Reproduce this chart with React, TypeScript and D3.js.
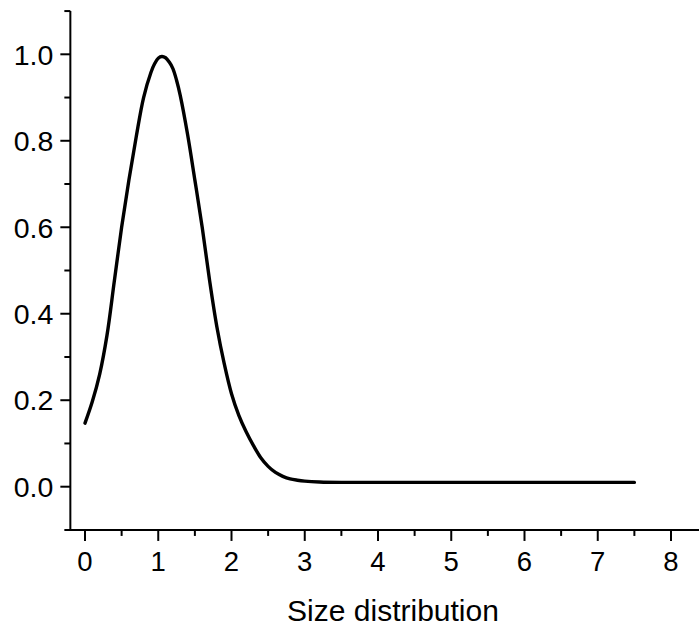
import React from "react";
import * as d3 from "d3";

const xValues = [0, 0.1, 0.2, 0.3, 0.4, 0.5, 0.6, 0.7, 0.8, 0.9, 0.95, 1.0, 1.05, 1.1, 1.15, 1.2, 1.25, 1.3, 1.4, 1.5, 1.6, 1.7, 1.8, 1.9, 2.0, 2.1, 2.2, 2.3, 2.4, 2.5, 2.6, 2.7, 2.8, 2.9, 3.0, 3.2, 3.5, 4, 5, 6, 7, 7.5];
const yValues = [0.147, 0.197, 0.26, 0.35, 0.475, 0.6, 0.71, 0.81, 0.9, 0.958, 0.978, 0.991, 0.995, 0.992, 0.982, 0.967, 0.94, 0.905, 0.815, 0.709, 0.6, 0.478, 0.37, 0.285, 0.215, 0.165, 0.127, 0.095, 0.067, 0.047, 0.033, 0.024, 0.018, 0.015, 0.013, 0.011, 0.01, 0.01, 0.01, 0.01, 0.01, 0.01];
const xMajor = [0, 1, 2, 3, 4, 5, 6, 7, 8];
const xMinor = [0.5, 1.5, 2.5, 3.5, 4.5, 5.5, 6.5, 7.5];
const yMajor = [0, 0.2, 0.4, 0.6, 0.8, 1.0];
const yMinor = [0.1, 0.3, 0.5, 0.7, 0.9, 1.1];
const xTitle = "Size distribution";

export default function App() {
  const W = 699, H = 627;
  const x = d3.scaleLinear().domain([0, 8]).range([85, 671]);
  const y = d3.scaleLinear().domain([0, 1]).range([486.7, 54.3]);
  const axisX = x(-0.2);
  const axisY = y(-0.1);
  const pts = xValues.map((v, i) => [v, yValues[i]] as [number, number]);
  const line = d3.line<[number, number]>().x(d => x(d[0])).y(d => y(d[1])).curve(d3.curveCatmullRom.alpha(0.5));
  const font = "'Liberation Sans', Arial, sans-serif";
  return (
    <svg width={W} height={H} style={{ position: "absolute", left: 0, top: 0, background: "#fff" }}>
      <rect width={W} height={H} fill="#fff" />
      <line x1={axisX} x2={axisX} y1={y(1.1)} y2={axisY + 1} stroke="#000" strokeWidth={2} />
      <line x1={axisX - 6} x2={W + 20} y1={axisY} y2={axisY} stroke="#000" strokeWidth={2} />
      {yMajor.map(v => (
        <g key={"ym" + v}>
          <line x1={axisX - 10} x2={axisX} y1={y(v)} y2={y(v)} stroke="#000" strokeWidth={2} />
          <text x={axisX - 17} y={y(v)} dy="0.36em" textAnchor="end" fontFamily={font} fontSize={28.5} fill="#000">{v.toFixed(1)}</text>
        </g>
      ))}
      {yMinor.map(v => (
        <line key={"yn" + v} x1={axisX - 6} x2={axisX} y1={y(v)} y2={y(v)} stroke="#000" strokeWidth={2} />
      ))}
      {xMajor.map(v => (
        <g key={"xm" + v}>
          <line x1={x(v)} x2={x(v)} y1={axisY} y2={axisY + 11} stroke="#000" strokeWidth={2} />
          <text x={x(v)} y={571} textAnchor="middle" fontFamily={font} fontSize={27.5} fill="#000">{v}</text>
        </g>
      ))}
      {xMinor.map(v => (
        <line key={"xn" + v} x1={x(v)} x2={x(v)} y1={axisY} y2={axisY + 6} stroke="#000" strokeWidth={2} />
      ))}
      <text x={393} y={621} textAnchor="middle" fontFamily={font} fontSize={30} fill="#000">{xTitle}</text>
      <path d={line(pts) || ""} fill="none" stroke="#000" strokeWidth={3.4} strokeLinecap="round" strokeLinejoin="round" />
    </svg>
  );
}
